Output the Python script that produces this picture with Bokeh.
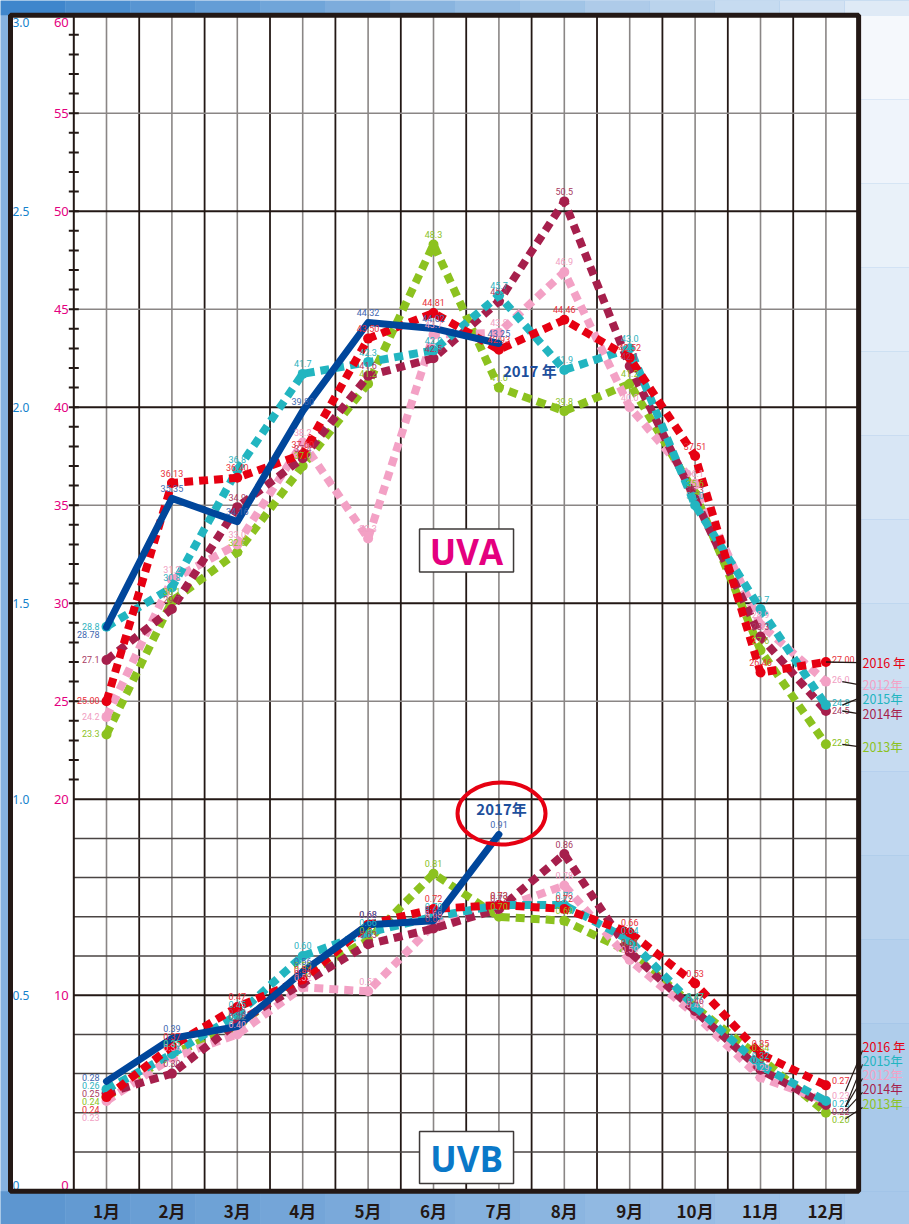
import numpy as np
from bokeh.plotting import figure
from bokeh.models import Range1d, ColumnDataSource
from bokeh.core.properties import value
from bokeh.embed import file_html
from bokeh.resources import INLINE

# ---------------- data ----------------
months = list(range(1, 13))
month_labels = [f"{m}月" for m in months]

# UVA (A axis)
uva_2017 = [28.78, 35.35, 34.16, 39.80, 44.32, 44.02, 43.25]
uva_2016 = [25.0, 36.13, 36.4, 37.6, 43.50, 44.81, 42.93, 44.46, 42.52, 37.51, 26.46, 27.0]
uva_2015 = [28.8, 30.8, 36.8, 41.7, 42.3, 42.9, 45.7, 41.9, 43.0, 35.0, 29.7, 24.8]
uva_2014 = [27.1, 29.7, 34.9, 37.4, 41.6, 42.5, 45.4, 50.5, 42.1, 35.3, 28.3, 24.5]
uva_2013 = [23.3, 30.1, 32.6, 37.0, 41.2, 48.3, 41.0, 39.8, 41.2, 35.6, 27.6, 22.8]
uva_2012 = [24.2, 31.2, 33.0, 38.2, 33.3, 43.7, 43.8, 46.9, 40.0, 36.1, 28.9, 26.0]

# UVB (B axis)
uvb_2017 = [0.28, 0.39, 0.42, 0.56, 0.68, 0.69, 0.91]
uvb_2016 = [0.24, 0.37, 0.47, 0.54, 0.68, 0.72, 0.73, 0.72, 0.66, 0.53, 0.35, 0.27]
uvb_2015 = [0.26, 0.35, 0.45, 0.60, 0.66, 0.70, 0.73, 0.73, 0.64, 0.47, 0.32, 0.23]
uvb_2014 = [0.25, 0.30, 0.43, 0.53, 0.63, 0.67, 0.72, 0.86, 0.61, 0.46, 0.31, 0.22]
uvb_2013 = [0.24, 0.35, 0.42, 0.55, 0.64, 0.81, 0.70, 0.69, 0.61, 0.47, 0.34, 0.20]
uvb_2012 = [0.23, 0.34, 0.40, 0.52, 0.51, 0.68, 0.72, 0.78, 0.59, 0.45, 0.29, 0.23]

a_ticks = [60, 55, 50, 45, 40, 35, 30, 25, 20, 10, 0]
b_ticks = [3.0, 2.5, 2.0, 1.5, 1.0, 0.5, 0]
b_tick_labels = ["3.0", "2.5", "2.0", "1.5", "1.0", "0.5", "0"]
B_TO_A = 20.0  # B axis 3.0 corresponds to A axis 60

years_dashed = ["2013", "2012", "2014", "2015", "2016"]
uva = {"2016": uva_2016, "2015": uva_2015, "2014": uva_2014, "2013": uva_2013, "2012": uva_2012}
uvb = {"2016": uvb_2016, "2015": uvb_2015, "2014": uvb_2014, "2013": uvb_2013, "2012": uvb_2012}
uva_decimals = {"2016": 2, "2015": 1, "2014": 1, "2013": 1, "2012": 1}

# ---------------- styles ----------------
line_col = {"2016": "#e60012", "2015": "#22b5c0", "2014": "#a61f4c",
            "2013": "#8cc21f", "2012": "#f3a1c5"}
text_col = {"2016": "#e8303a", "2015": "#2fb3c0", "2014": "#a83a62",
            "2013": "#8cc21f", "2012": "#f19ec2", "2017": "#3f67b0"}
BLUE = "#00469b"
MAGENTA = "#e4007f"
AXBLUE = "#1482cc"
DARK = "#231815"
GRAY = "#8a8685"

legend_uva_y = {"2016": 26.97, "2012": 25.85, "2015": 25.14, "2014": 24.37, "2013": 22.68}
legend_uvb_y = {"2016": 7.38, "2015": 6.67, "2012": 5.95, "2014": 5.24, "2013": 4.47}
legend_text = {"2016": "2016 年", "2015": "2015年", "2014": "2014年", "2013": "2013年", "2012": "2012年"}

W, H = 909, 1224
X0, X1 = -0.6208, 13.278
Y0, Y1 = -1.699, 60.750
PX_PER_A = H / (Y1 - Y0)
BOX_L, BOX_R = -0.468, 12.5

p = figure(width=W, height=H, x_range=Range1d(X0, X1), y_range=Range1d(Y0, Y1),
           output_backend="svg", toolbar_location=None,
           x_axis_type=None, y_axis_type=None, min_border=0)
p.outline_line_color = None
p.grid.visible = False
p.background_fill_color = "#86b2e0"
p.border_fill_color = "#86b2e0"

def blend(c1, c2, t):
    a = [int(c1[i:i + 2], 16) for i in (1, 3, 5)]
    b = [int(c2[i:i + 2], 16) for i in (1, 3, 5)]
    return "#%02x%02x%02x" % tuple(int(round(a[k] + (b[k] - a[k]) * t)) for k in range(3))

# background bands
nb = 14
xs = np.linspace(X0, X1, nb + 1)
p.quad(left=xs[:-1], right=xs[1:], top=Y1, bottom=60,
       fill_color=[blend("#3f86cc", "#dfeaf6", i / (nb - 1)) for i in range(nb)], line_color=None)
ys = np.linspace(60, 0, nb + 1)
p.quad(left=BOX_R, right=X1, top=ys[:-1], bottom=ys[1:],
       fill_color=[blend("#f5f8fc", "#a9c9ea", i / (nb - 1)) for i in range(nb)], line_color=None)
p.quad(left=xs[:-1], right=xs[1:], top=0, bottom=Y0,
       fill_color=[blend("#5d96d0", "#a8c8ea", i / (nb - 1)) for i in range(nb)], line_color=None)

# white chart box
p.quad(left=[BOX_L], right=[BOX_R], top=[60], bottom=[0], fill_color="white", line_color=None)

# vertical grid
vc = np.array(months, dtype=float)
vb = np.arange(1.5, 12.5, 1.0)
p.segment(x0=vc, y0=0, x1=vc, y1=60, line_color=GRAY, line_width=1.6)
p.segment(x0=vb, y0=0, x1=vb, y1=60, line_color=DARK, line_width=1.8)

# horizontal grid
h_dark = np.array([50, 40, 30, 20, 10], dtype=float)
h_gray = np.array([55, 45, 35, 25], dtype=float)
h_small = np.array([2, 4, 6, 8, 12, 14, 16, 18], dtype=float)
p.segment(x0=0.5, y0=h_gray, x1=12.5, y1=h_gray, line_color=GRAY, line_width=1.6)
p.segment(x0=0.5, y0=h_small, x1=12.5, y1=h_small, line_color="#4a4443", line_width=1.5)
p.segment(x0=0.5, y0=h_dark, x1=12.5, y1=h_dark, line_color=DARK, line_width=2)

# left inner axis with minor ticks
p.segment(x0=[0.5], y0=[0], x1=[0.5], y1=[60], line_color=DARK, line_width=2)
minor = np.arange(21, 60, 1.0)
p.scatter(x=0.5, y=minor, marker="dash", size=10, line_color=DARK, line_width=2)

# axis labels
def tick_baseline(v, top):
    return "top" if v == top else ("bottom" if v == 0 else "middle")

src_a = ColumnDataSource(dict(y=a_ticks, t=[str(v) for v in a_ticks],
                              bl=[tick_baseline(v, 60) for v in a_ticks],
                              yo=[3 if v == 60 else (-1 if v == 0 else 0) for v in a_ticks]))
p.text(x=0.5, y="y", text="t", source=src_a, text_align="right", text_baseline="bl",
       x_offset=-5, y_offset="yo", text_color=MAGENTA, text_font=value("Noto Sans"),
       text_font_size="13px")
src_b = ColumnDataSource(dict(y=[b * B_TO_A for b in b_ticks], t=b_tick_labels,
                              bl=[tick_baseline(b * B_TO_A, 60) for b in b_ticks],
                              yo=[3 if b == 3.0 else (-1 if b == 0 else 0) for b in b_ticks]))
p.text(x=BOX_L, y="y", text="t", source=src_b, text_align="left", text_baseline="bl",
       x_offset=2, y_offset="yo", text_color=AXBLUE, text_font=value("Noto Sans"),
       text_font_size="12px")

# UVA / UVB boxes
p.rect(x=[6.505], y=[32.69], width=94, height=43, width_units="screen", height_units="screen",
       fill_color="white", line_color="#3e3a39", line_width=1.5)
p.text(x=[6.505], y=[32.69], text=["UVA"], text_align="center", text_baseline="middle",
       text_color=MAGENTA, text_font=value("Open Sans"), text_font_size="35px",
       text_font_style="bold", y_offset=1)
p.rect(x=[6.505], y=[1.72], width=94, height=52, width_units="screen", height_units="screen",
       fill_color="white", line_color="#3e3a39", line_width=1.5)
p.text(x=[6.505], y=[1.72], text=["UVB"], text_align="center", text_baseline="middle",
       text_color="#0a78c8", text_font=value("Open Sans"), text_font_size="35px",
       text_font_style="bold", y_offset=1)

# ---- data lines ----
sections = []  # (year, values scaled to A, label strings)
for yr in years_dashed:
    sections.append((yr, "uva", [v for v in uva[yr]], [f"{v:.{uva_decimals[yr]}f}" for v in uva[yr]]))
    sections.append((yr, "uvb", [v * B_TO_A for v in uvb[yr]], [f"{v:.2f}" for v in uvb[yr]]))
sections.append(("2017", "uva", list(uva_2017), [f"{v:.2f}" for v in uva_2017]))
sections.append(("2017", "uvb", [v * B_TO_A for v in uvb_2017], [f"{v:.2f}" for v in uvb_2017]))

for yr, sec, yv, _ in sections:
    ms = months[:len(yv)]
    if yr == "2017":
        p.line(ms, yv, line_color=BLUE, line_width=7, line_join="round", line_cap="round")
    else:
        p.line(ms, yv, line_color=line_col[yr], line_width=8, line_dash="9 6", line_cap="butt")
        p.scatter(ms, yv, marker="circle", size=10, fill_color=line_col[yr], line_color=None)

# label offsets: stack end-month labels so they do not overlap
GAP = 8.0
offsets = {}
for sec in ("uva", "uvb"):
    for mi in (0, 11):
        entries = [(yr, yv[mi]) for yr, s, yv, _ in sections if s == sec and len(yv) > mi]
        entries.sort(key=lambda e: -e[1])
        scr = [-v * PX_PER_A for _, v in entries]
        tgt = []
        for i, s in enumerate(scr):
            tgt.append(s if i == 0 else max(s, tgt[-1] + GAP))
        shift = np.mean(np.array(tgt) - np.array(scr)) / 2.0
        for (yr, _), s, t in zip(entries, scr, tgt):
            offsets[(yr, sec, mi)] = t - s - shift

for yr, sec, yv, txt in sections:
    ms = months[:len(yv)]
    al, xo, yo = [], [], []
    for i, m in enumerate(ms):
        if m == 1:
            al.append("right"); xo.append(-7); yo.append(offsets[(yr, sec, 0)])
        elif m == 12:
            al.append("left"); xo.append(6); yo.append(offsets[(yr, sec, 11)] - 2)
        else:
            al.append("center"); xo.append(0); yo.append(-10)
    s = ColumnDataSource(dict(x=ms, y=yv, t=txt, al=al, xo=xo, yo=yo))
    p.text(x="x", y="y", text="t", source=s, text_align="al", text_baseline="middle",
           x_offset="xo", y_offset="yo", text_color=text_col[yr], text_font=value("Roboto"),
           text_font_size="9px")

# 2017 annotations
p.text(x=[len(uva_2017)], y=[uva_2017[-1]], text=["2017 年"], text_align="center",
       text_baseline="middle", x_offset=31, y_offset=27, text_color="#1d4f9c",
       text_font=value("Noto Sans CJK JP"), text_font_size="15px", text_font_style="bold")
p.ellipse(x=[7.04], y=[19.27], width=88, height=62, width_units="screen", height_units="screen",
          fill_color=None, line_color="#e60012", line_width=4)
p.text(x=[7.04], y=[19.27], text=["2017年"], text_align="center", text_baseline="middle",
       y_offset=-5, text_color="#1d4f9c", text_font=value("Noto Sans CJK JP"),
       text_font_size="15px", text_font_style="bold")

# frame border
p.quad(left=[BOX_L], right=[BOX_R], top=[60], bottom=[0], fill_color=None,
       line_color=DARK, line_width=5)

# leader lines and right-side legend
for yr in years_dashed:
    x0 = 12.0 if yr == "2016" else 12.25
    p.segment(x0=[x0], y0=[uva[yr][-1]], x1=[12.5], y1=[legend_uva_y[yr]],
              line_color=DARK, line_width=1.3)
    p.segment(x0=[12.3], y0=[uvb[yr][-1] * B_TO_A - 0.3], x1=[12.56], y1=[legend_uvb_y[yr] - 0.2],
              line_color=DARK, line_width=1.2)
    p.text(x=[12.56], y=[legend_uva_y[yr]], text=[legend_text[yr]], text_align="left",
           text_baseline="middle", text_color=line_col[yr], text_font=value("Noto Sans CJK JP"),
           text_font_size="12.5px")
    p.text(x=[12.56], y=[legend_uvb_y[yr]], text=[legend_text[yr]], text_align="left",
           text_baseline="middle", text_color=line_col[yr], text_font=value("Noto Sans CJK JP"),
           text_font_size="12.5px")

# month labels
p.text(x=months, y=[-1.0] * 12, text=month_labels, text_align="center", text_baseline="middle",
       text_color=DARK, text_font=value("Noto Sans CJK JP"), text_font_size="17px",
       text_font_style="bold")

open("out.html", "w").write(file_html(p, INLINE))
